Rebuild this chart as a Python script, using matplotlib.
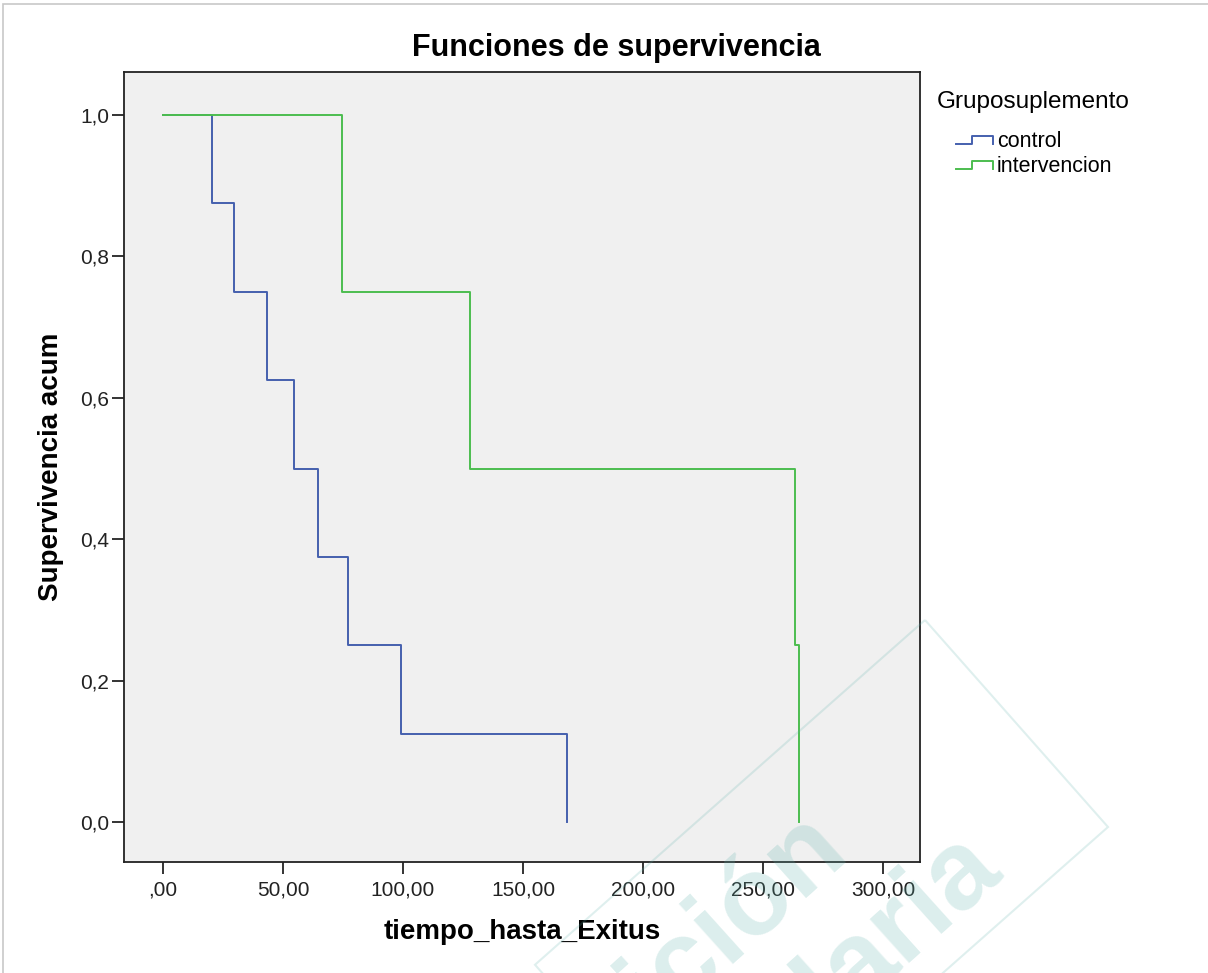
import matplotlib
matplotlib.use('Agg')
import matplotlib.pyplot as plt
import matplotlib.ticker as ticker
from matplotlib.lines import Line2D
from matplotlib.patches import Polygon, Rectangle
from matplotlib.legend_handler import HandlerBase

plt.rcParams['font.family'] = ['Liberation Sans', 'DejaVu Sans']

# --- datos (Kaplan-Meier) ---
control_t = [0, 20.4, 29.6, 43.3, 54.6, 64.6, 77.1, 99.2, 168.3]
control_s = [1.0, 0.875, 0.75, 0.625, 0.5, 0.375, 0.25, 0.125, 0.0]
interv_t = [0, 74.6, 128.0, 263.3, 265.0]
interv_s = [1.0, 0.75, 0.5, 0.25, 0.0]
groups = ['control', 'intervencion']
colors = ['#4560ae', '#4cbd4f']
x_ticks = [0, 50, 100, 150, 200, 250, 300]
y_ticks = [0.0, 0.2, 0.4, 0.6, 0.8, 1.0]

W, H = 1208, 973
def fx(px): return px / W
def fy(py): return 1 - py / H


class StepHandler(HandlerBase):
    # icono de escalon como en SPSS
    def create_artists(self, legend, orig_handle, xdescent, ydescent, width, height, fontsize, trans):
        x0, y0 = -xdescent, -ydescent
        xs = [x0, x0 + 0.45 * width, x0 + 0.45 * width, x0 + width, x0 + width]
        ys = [y0 + 0.2 * height, y0 + 0.2 * height, y0 + 0.7 * height, y0 + 0.7 * height, y0 + 0.2 * height]
        ln = Line2D(xs, ys, color=orig_handle.get_color(), lw=orig_handle.get_linewidth())
        ln.set_transform(trans)
        return [ln]


fig = plt.figure(figsize=(W / 100, H / 100), dpi=100)
ax = fig.add_axes([fx(124), fy(862), fx(920) - fx(124), fy(72) - fy(862)])
ax.set_facecolor('#f0f0f0')

l1, = ax.step(control_t, control_s, where='post', color=colors[0], lw=1.4, zorder=3)
l2, = ax.step(interv_t, interv_s, where='post', color=colors[1], lw=1.4, zorder=4)

ax.set_xlim((124 - 163) / 2.4, (920 - 163) / 2.4)
ax.set_ylim(-40 / 707, 1 + 43 / 707)
ax.set_xticks(x_ticks)
ax.set_yticks(y_ticks)
ax.xaxis.set_major_formatter(ticker.FuncFormatter(
    lambda v, p: (f"{v:.2f}".replace('.', ',')).lstrip('0') if v == 0 else f"{v:.2f}".replace('.', ',')))
ax.yaxis.set_major_formatter(ticker.FuncFormatter(lambda v, p: f"{v:.1f}".replace('.', ',')))
ax.tick_params(axis='both', length=8.5, width=1.4, color='#333333', labelsize=15, labelcolor='#222222')
ax.tick_params(axis='x', pad=5)
ax.tick_params(axis='y', pad=2)
for s in ax.spines.values():
    s.set_color('#222222'); s.set_linewidth(1.3)

ax.set_xlabel('tiempo_hasta_Exitus', fontsize=20, fontweight='bold', labelpad=14)
ax.set_ylabel('Supervivencia acum', fontsize=20, fontweight='bold', labelpad=12)
fig.text(fx(616), fy(48), 'Funciones de supervivencia', fontsize=22, fontweight='bold',
         ha='center', va='center')

# leyenda
fig.text(fx(937), fy(102), 'Gruposuplemento', fontsize=17.5, ha='left', va='center')
fig.legend([l1, l2], groups, loc='upper left', bbox_to_anchor=(fx(956), fy(131)),
           bbox_transform=fig.transFigure, frameon=False, fontsize=15.5, borderpad=0,
           borderaxespad=0, handlelength=1.7, handletextpad=0.2, labelspacing=0.18,
           handler_map={Line2D: StepHandler()})

# marco de la imagen
fig.patches.append(Rectangle((fx(3), fy(H + 20)), 1.2, fy(4) - fy(H + 20), transform=fig.transFigure,
                             fill=False, edgecolor='#c8c8c8', lw=1.2, zorder=0))

# marca de agua
wm = '#5fb3ad'
top, right = (925, 620), (1108, 827)
d = (-0.75, 0.663); L = 520
pts = [top, right, (right[0] + L * d[0], right[1] + L * d[1]), (top[0] + L * d[0], top[1] + L * d[1])]
fig.patches.append(Polygon([(fx(x), fy(y)) for x, y in pts], closed=True, fill=False,
                           edgecolor=wm, alpha=0.2, lw=1.5, transform=fig.transFigure, zorder=10))
fig.text(fx(850), fy(852), 'Nutrición', fontsize=80, fontweight='bold', color=wm, alpha=0.22,
         rotation=42, rotation_mode='anchor', ha='right', va='baseline', zorder=10)
fig.text(fx(1004), fy(872), 'Hospitalaria', fontsize=80, fontweight='bold', color=wm, alpha=0.22,
         rotation=42, rotation_mode='anchor', ha='right', va='baseline', zorder=10)

plt.savefig('out.png', dpi=100)
